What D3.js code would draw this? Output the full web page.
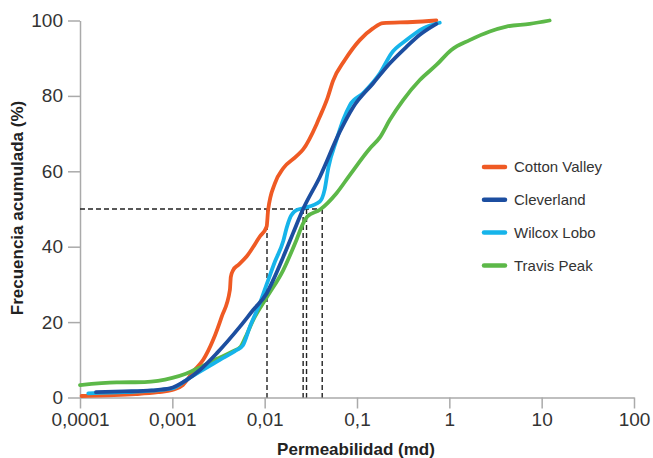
<!DOCTYPE html>
<html>
<head>
<meta charset="utf-8">
<script src="https://cdn.jsdelivr.net/npm/d3@7"></script>
<style>
  body { margin: 0; background: #fff; }
  svg { display: block; font-family: "Liberation Sans", Arial, sans-serif; }
</style>
</head>
<body>
<svg width="653" height="458"></svg>
<script>
// permeability (md), cumulative frequency (%)
const cottonValley = [
  [0.000104, 0.4], [0.0002, 0.6], [0.0004, 0.9], [0.0007, 1.4], [0.001, 2.0],
  [0.0013, 3.3], [0.00168, 6.9], [0.00216, 10], [0.00277, 15.3], [0.00342, 21.4],
  [0.0042, 28.5], [0.0043, 32], [0.00456, 33.8], [0.0052, 35.2], [0.00637, 37.4],
  [0.00887, 42.7], [0.0105, 45.3], [0.0109, 49.7], [0.0129, 56.8], [0.0159, 60.8],
  [0.0221, 64], [0.0261, 65.8], [0.0365, 72.5], [0.0396, 74.5], [0.048, 79.5],
  [0.055, 84], [0.0738, 89.5], [0.107, 94.8], [0.149, 97.9], [0.191, 99.3],
  [0.4, 99.6], [0.724, 100]
];
const cleverland = [
  [0.000149, 1.4], [0.0003, 1.6], [0.0006, 1.9], [0.00094, 2.4], [0.0014, 4.5],
  [0.00199, 7.3], [0.00302, 11.7], [0.0054, 18.8], [0.0075, 23.2], [0.0105, 27.6],
  [0.0124, 31.2], [0.0159, 37.3], [0.0203, 43.6], [0.0261, 50], [0.0396, 58.5],
  [0.0652, 70.5], [0.0908, 77], [0.149, 83.3], [0.226, 88.6], [0.343, 93],
  [0.479, 96.2], [0.724, 99.1]
];
const wilcoxLobo = [
  [0.000123, 1.1], [0.0003, 1.4], [0.0006, 1.8], [0.001, 2.4], [0.00155, 5.3],
  [0.00327, 10], [0.00497, 12.6], [0.0058, 13.8], [0.00692, 18.8], [0.00887, 25],
  [0.0105, 30], [0.0129, 36], [0.0159, 41.5], [0.0173, 45], [0.0187, 47.5],
  [0.0221, 49.7], [0.0261, 50.2], [0.0396, 52], [0.0445, 55], [0.049, 61],
  [0.06, 68.3], [0.0708, 73.6], [0.0835, 77.5], [0.116, 80.7], [0.177, 86],
  [0.236, 91.3], [0.343, 94.8], [0.519, 97.9], [0.787, 99.4]
];
const travisPeak = [
  [0.0001, 3.3], [0.00025, 4.0], [0.0005, 4.1], [0.001, 5.2], [0.0014, 6.3],
  [0.002, 8.0], [0.003, 10.2], [0.0045, 12.2], [0.0055, 13.5], [0.0062, 16],
  [0.0075, 20.5], [0.0105, 26.5], [0.0159, 33.8], [0.0221, 41.8], [0.0261, 46.2],
  [0.029, 48], [0.0396, 49.8], [0.06, 54.2], [0.0835, 59], [0.137, 66],
  [0.177, 69], [0.226, 73.6], [0.316, 78.9], [0.479, 84.2], [0.724, 88.2],
  [1.05, 92.2], [1.66, 94.8], [2.74, 97.1], [4.15, 98.4], [7.42, 99.1], [12.2, 100]
];

const seriesNames = ["Cotton Valley", "Cleverland", "Wilcox Lobo", "Travis Peak"];
const seriesColors = ["#ef5a24", "#1c4ea0", "#16b4ea", "#5cb848"];
const seriesData = [cottonValley, cleverland, wilcoxLobo, travisPeak];

// where each curve crosses 50 %
const medianLevel = 50;
const medianK = [0.0106, 0.0261, 0.0284, 0.042];

const xTicks = [0.0001, 0.001, 0.01, 0.1, 1, 10, 100];
const xTickLabels = ["0,0001", "0,001", "0,01", "0,1", "1", "10", "100"];
const yTicks = [0, 20, 40, 60, 80, 100];

var svg = d3.select("svg");
var margin = { top: 20.5, right: 19, bottom: 60.5, left: 80 };
var width = +svg.attr("width");
var height = +svg.attr("height");
var innerWidth = width - margin.left - margin.right;
var innerHeight = height - margin.top - margin.bottom;

const xScale = d3.scaleLog().domain([0.0001, 100]).range([0, innerWidth]);
const yScale = d3.scaleLinear().domain([0, 100]).range([innerHeight, 0]);

const g = svg.append("g")
  .attr("transform", `translate(${margin.left}, ${margin.top})`);

const styleAxis = (sel) => {
  sel.attr("font-size", 19)
    .attr("font-family", "Liberation Sans, Arial, sans-serif");
  sel.selectAll("path, line").attr("stroke", "#aaa").attr("stroke-width", 1.5);
  sel.selectAll("text").attr("fill", "#333");
};

g.append("g")
  .call(d3.axisLeft(yScale).tickValues(yTicks).tickSize(12).tickSizeOuter(0).tickPadding(5))
  .call(styleAxis);

g.append("g")
  .attr("transform", `translate(0, ${innerHeight})`)
  .call(d3.axisBottom(xScale)
    .tickValues(xTicks)
    .tickFormat((d, i) => xTickLabels[i])
    .tickSize(11).tickSizeOuter(0).tickPadding(4))
  .call(styleAxis);

// dashed guide lines at 50 %
const maxK = d3.max(medianK);
g.append("line")
  .attr("x1", 0).attr("x2", xScale(maxK))
  .attr("y1", yScale(medianLevel)).attr("y2", yScale(medianLevel))
  .attr("stroke", "#222").attr("stroke-width", 1.4)
  .attr("stroke-dasharray", "5,3");

g.selectAll(".vguide")
  .data(medianK)
  .enter()
  .append("line")
  .attr("class", "vguide")
  .attr("x1", (d) => xScale(d)).attr("x2", (d) => xScale(d))
  .attr("y1", yScale(medianLevel)).attr("y2", innerHeight)
  .attr("stroke", "#222").attr("stroke-width", 1.4)
  .attr("stroke-dasharray", "5,3");

const line = d3.line()
  .x((d) => xScale(d[0]))
  .y((d) => yScale(d[1]))
  .curve(d3.curveMonotoneX);

const drawOrder = [0, 3, 2, 1];
drawOrder.forEach((i) => {
  g.append("path")
    .datum(seriesData[i])
    .attr("fill", "none")
    .attr("stroke", seriesColors[i])
    .attr("stroke-width", 3.8)
    .attr("stroke-linejoin", "round")
    .attr("stroke-linecap", "round")
    .attr("d", line);
});

// axis titles
svg.append("text")
  .attr("x", margin.left + 276)
  .attr("y", 455)
  .attr("text-anchor", "middle")
  .attr("font-size", 17).attr("font-weight", "bold").attr("fill", "#222")
  .text("Permeabilidad (md)");

svg.append("text")
  .attr("transform", "translate(23, 208) rotate(-90)")
  .attr("text-anchor", "middle")
  .attr("font-size", 17).attr("font-weight", "bold").attr("fill", "#222")
  .text("Frecuencia acumulada (%)");

// legend
const rows = svg.append("g").selectAll("g")
  .data(seriesNames)
  .enter()
  .append("g")
  .attr("transform", (d, i) => `translate(484, ${167 + i * 32.8})`);

rows.append("line")
  .attr("x1", 0).attr("x2", 21)
  .attr("stroke", (d, i) => seriesColors[i])
  .attr("stroke-width", 4.5)
  .attr("stroke-linecap", "round");

rows.append("text")
  .attr("x", 30)
  .attr("dy", "0.35em")
  .attr("font-size", 15)
  .attr("fill", "#333")
  .text((d) => d);
</script>
</body>
</html>
